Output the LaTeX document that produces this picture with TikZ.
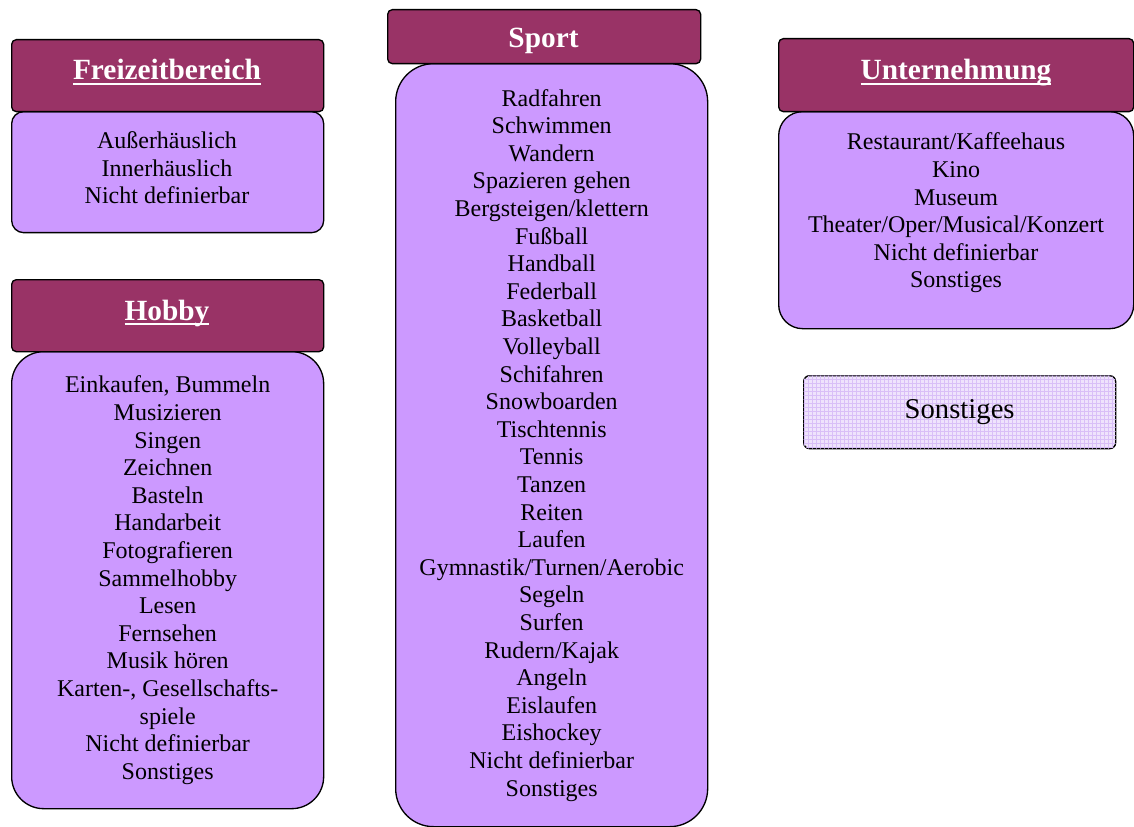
\documentclass[tikz,border=0pt]{standalone}
\usepackage{fontspec}
\setmainfont{Liberation Serif}
\usetikzlibrary{patterns}
\definecolor{hdrcol}{HTML}{993366}
\definecolor{bodycol}{HTML}{CC99FF}
\definecolor{sonstcol}{HTML}{EFE3FC}
\definecolor{sonstgrid}{HTML}{D9BFF7}
\newcommand\hdrul[1]{\setbox0\hbox{#1}\rlap{\rule[-3.6pt]{\wd0}{1.4pt}}\box0}
\begin{document}
\begin{tikzpicture}[x=0.75pt,y=-0.75pt,
  hdrbox/.style={draw=black, line width=1pt, fill=hdrcol, rounded corners=3.5pt,
    inner sep=0pt, anchor=north west},
  hdrtext/.style={anchor=base, inner sep=0pt, text=white,
    font=\fontsize{22}{26}\selectfont\bfseries},
  bodybox/.style={draw=black, line width=1pt, fill=bodycol, inner sep=0pt,
    anchor=north west, align=center, font=\fontsize{18}{20.7}\selectfont},
  bodytext/.style={align=center, inner sep=0pt, font=\fontsize{18}{20.7}\selectfont},
  sonstbox/.style={draw=black, line width=1pt, fill=sonstcol, rounded corners=4.5pt,
    inner sep=0pt, anchor=north west, font=\fontsize{21.5}{25}\selectfont,
    postaction={pattern=grid, pattern color=sonstgrid}}]
\useasboundingbox (0,0) rectangle (1134,827);
\fill[white] (0,0) rectangle (1134,827);

% Freizeitbereich
\node[bodybox, rounded corners=9pt, minimum width=234pt, minimum height=90.75pt]
  (fbb) at (11,111) {};
\node[bodytext] (fbt) at (167,168) {Außerhäuslich\\Innerhäuslich\\Nicht definierbar};
\node[hdrbox, minimum width=234pt, minimum height=54pt] (fbh) at (11,39) {};
\node[hdrtext] (fbl) at (167,80) {\hdrul{Freizeitbereich}};

% Hobby
\node[bodybox, rounded corners=24pt, minimum width=234pt, minimum height=342.75pt]
  (hbb) at (11,351) {Einkaufen, Bummeln\\Musizieren\\Singen\\Zeichnen\\Basteln\\Handarbeit\\Fotografieren\\Sammelhobby\\Lesen\\Fernsehen\\Musik hören\\Karten-, Gesellschafts-\\spiele\\Nicht definierbar\\Sonstiges};
\node[hdrbox, minimum width=234pt, minimum height=54pt] (hbh) at (11,279) {};
\node[hdrtext] (hbl) at (167,320) {\hdrul{Hobby}};

% Sport
\node[bodybox, rounded corners=28.5pt, minimum width=234pt, minimum height=572.25pt]
  (spb) at (395,63) {Radfahren\\Schwimmen\\Wandern\\Spazieren gehen\\Bergsteigen/klettern\\Fußball\\Handball\\Federball\\Basketball\\Volleyball\\Schifahren\\Snowboarden\\Tischtennis\\Tennis\\Tanzen\\Reiten\\Laufen\\Gymnastik/Turnen/Aerobic\\Segeln\\Surfen\\Rudern/Kajak\\Angeln\\Eislaufen\\Eishockey\\Nicht definierbar\\Sonstiges};
\node[hdrbox, minimum width=234.75pt, minimum height=40.5pt] (sph) at (387,9) {};
\node[hdrtext] (spl) at (543.5,48) {Sport};

% Unternehmung
\node[bodybox, rounded corners=18pt, minimum width=266.25pt, minimum height=162.75pt]
  (unb) at (778,111) {};
\node[bodytext] (unt) at (956,213) {Restaurant/Kaffeehaus\\Kino\\Museum\\Theater/Oper/Musical/Konzert\\Nicht definierbar\\Sonstiges};
\node[hdrbox, minimum width=266.25pt, minimum height=54.75pt] (unh) at (778,38) {};
\node[hdrtext] (unl) at (956,80) {\hdrul{Unternehmung}};

% Sonstiges
\node[sonstbox, minimum width=234pt, minimum height=54.75pt]
  (so) at (803,375) {Sonstiges};
\end{tikzpicture}
\end{document}
